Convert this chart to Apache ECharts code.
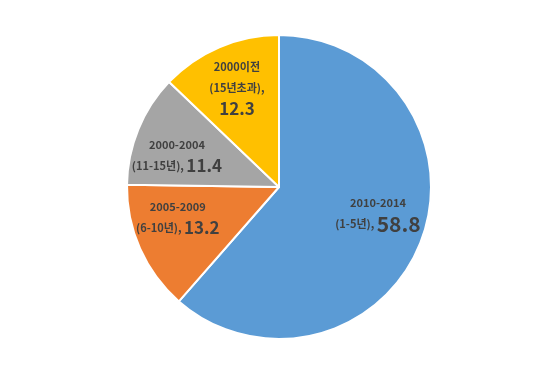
<!DOCTYPE html>
<html>
<head>
<meta charset="utf-8">
<script src="https://cdn.jsdelivr.net/npm/echarts@6/dist/echarts.min.js"></script>
<style>
html,body{margin:0;padding:0;background:#fff;}
#chart{width:557px;height:379px;}
</style>
</head>
<body>
<div id="chart"></div>
<script>
var categories = ['2010-2014', '2005-2009', '2000-2004', '2000이전'];
var subLabels = ['(1-5년)', '(6-10년)', '(11-15년)', '(15년초과)'];
var values = [58.8, 13.2, 11.4, 12.3];

var colors = ['#5B9BD5', '#ED7D31', '#A5A5A5', '#FFC000'];
var labelShift = [[25, -1], [-29, -2], [-29, -2], [-11, -27]];
var valueStyle = ['vbig', 'v', 'v', 'v'];

var chart = echarts.init(document.getElementById('chart'), null, {renderer: 'canvas'});
var data = categories.map(function (c, i) {
  return {name: c, value: values[i], itemStyle: {color: colors[i]}};
});
chart.setOption({
  animation: false,
  backgroundColor: '#ffffff',
  series: [{
    type: 'pie',
    center: [279, 187],
    radius: 152,
    startAngle: 90,
    clockwise: true,
    data: data,
    itemStyle: {borderColor: '#ffffff', borderWidth: 2},
    emphasis: {disabled: true},
    label: {
      show: true,
      position: 'inside',
      align: 'center',
      formatter: function (p) {
        var i = p.dataIndex;
        var sep = (i === 3) ? ',\n' : ', ';
        return '{a|' + p.name + '}\n{b|' + subLabels[i] + sep + '}{' + valueStyle[i] + '|' + p.value + '}';
      },
      rich: {
        a: {fontFamily: '"Noto Sans CJK KR", sans-serif', fontSize: 11, fontWeight: 'bold', color: '#404040', lineHeight: 21},
        b: {fontFamily: '"Noto Sans CJK KR", sans-serif', fontSize: 11, fontWeight: 'bold', color: '#404040', lineHeight: 21},
        v: {fontFamily: '"Noto Sans CJK KR", sans-serif', fontSize: 17, fontWeight: 'bold', color: '#404040', lineHeight: 21},
        vbig: {fontFamily: '"Noto Sans CJK KR", sans-serif', fontSize: 21, fontWeight: 'bold', color: '#404040', lineHeight: 22}
      }
    },
    labelLine: {show: false},
    labelLayout: function (p) {
      return {dx: labelShift[p.dataIndex][0], dy: labelShift[p.dataIndex][1]};
    }
  }]
});
</script>
</body>
</html>
